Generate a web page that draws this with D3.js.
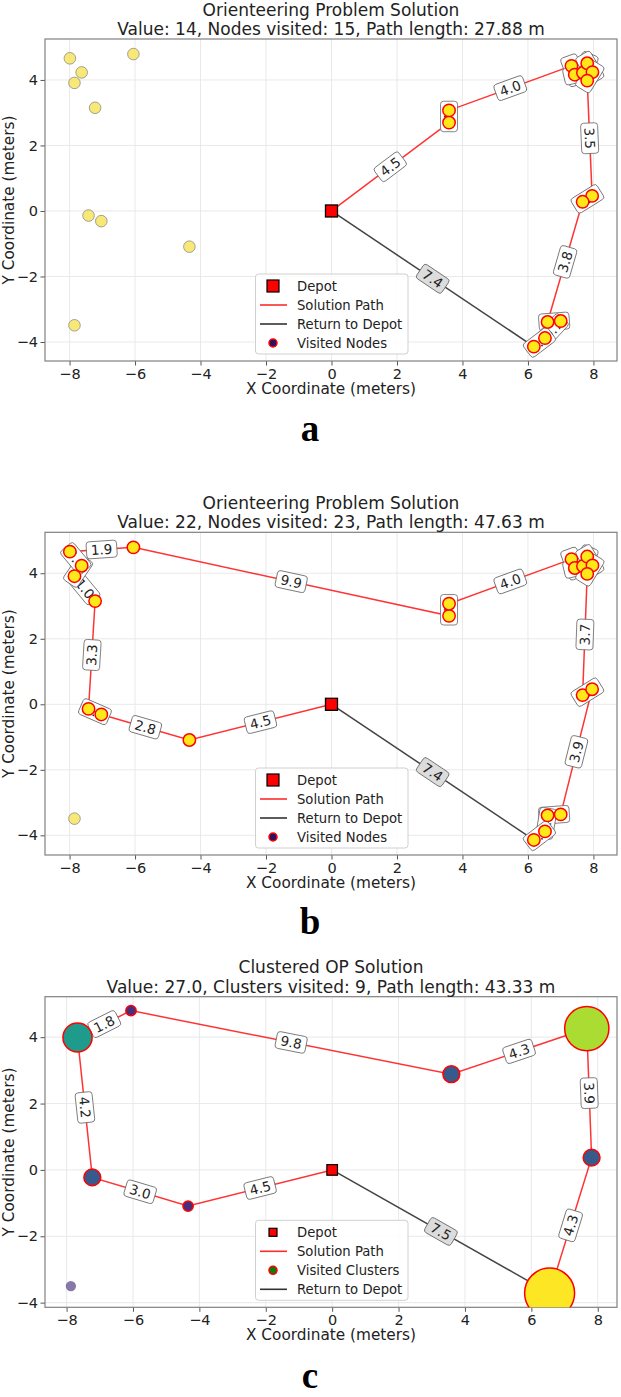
<!DOCTYPE html>
<html>
<head>
<meta charset="utf-8">
<script src="https://cdn.jsdelivr.net/npm/d3@7"></script>
<style>
  body { margin: 0; background: #fff; }
  svg { display: block; font-family: "DejaVu Sans", sans-serif; }
</style>
</head>
<body>
<div class="core_div"></div>
<script>
// node coordinates (meters), shared by panels a and b
var nodeX = [-7.99, -7.63, -7.85, -7.22, -6.05, -7.42, -7.03, -4.34, -7.85,
             3.59, 3.59, 7.33, 7.43, 7.68, 7.81, 7.97, 7.81, 7.96, 7.67, 7.00, 6.60, 6.52, 6.18];
var nodeY = [4.66, 4.23, 3.91, 3.15, 4.79, -0.14, -0.31, -1.09, -3.49,
             2.70, 3.07, 4.43, 4.16, 4.22, 4.51, 4.24, 3.98, 0.46, 0.28, -3.36, -3.39, -3.88, -4.14];

// visiting order (node index), depot at start and end
var routeA = [9, 10, 11, 12, 13, 14, 15, 16, 17, 18, 20, 19, 21, 22];
var routeB = [7, 6, 5, 3, 2, 1, 0, 4, 9, 10, 11, 12, 13, 14, 15, 16, 18, 17, 19, 20, 21, 22];

// clusters for panel c
var clusterX = [-7.67, -6.06, -7.225, -4.34, 3.59, 7.67, 7.815, 6.55, -7.87];
var clusterY = [3.99, 4.80, -0.225, -1.09, 2.885, 4.26, 0.37, -3.71, -3.50];
var clusterValue = [3.6, 0.45, 1.2, 0.45, 1.2, 8.3, 1.2, 10.6, 0.45];
var routeC = [3, 2, 0, 1, 4, 5, 6, 7];

var xTicks = [-8, -6, -4, -2, 0, 2, 4, 6, 8];
var yTicks = [-4, -2, 0, 2, 4];

var titlesA = ["Orienteering Problem Solution", "Value: 14, Nodes visited: 15, Path length: 27.88 m"];
var titlesB = ["Orienteering Problem Solution", "Value: 22, Nodes visited: 23, Path length: 47.63 m"];
var titlesC = ["Clustered OP Solution", "Value: 27.0, Clusters visited: 9, Path length: 43.33 m"];

var legendAB = ["Depot", "Solution Path", "Return to Depot", "Visited Nodes"];
var legendC = ["Depot", "Solution Path", "Visited Clusters", "Return to Depot"];

var W = 621, H = 1397;
var LEFT = 45, RIGHT = 617;

var svg = d3.select(".core_div").append("svg")
    .attr("width", W)
    .attr("height", H);

var clipCount = 0;

// draws frame, grid, axes, titles and returns the scales + plot group
function makePanel(p) {
  var x = d3.scaleLinear().domain(p.xDomain).range([LEFT, RIGHT]);
  var y = d3.scaleLinear().domain(p.yDomain).range([p.bottom, p.top]);
  var g = svg.append("g");

  var id = "clip" + (clipCount++);
  svg.append("clipPath").attr("id", id)
    .append("rect")
      .attr("x", LEFT).attr("y", p.top)
      .attr("width", RIGHT - LEFT).attr("height", p.bottom - p.top);

  // grid
  g.selectAll("line.gx").data(xTicks).enter().append("line")
      .attr("x1", function(d) { return x(d); }).attr("x2", function(d) { return x(d); })
      .attr("y1", p.top).attr("y2", p.bottom)
      .style("stroke", "#e6e6e6").style("stroke-width", 0.9);
  g.selectAll("line.gy").data(yTicks).enter().append("line")
      .attr("y1", function(d) { return y(d); }).attr("y2", function(d) { return y(d); })
      .attr("x1", LEFT).attr("x2", RIGHT)
      .style("stroke", "#e6e6e6").style("stroke-width", 0.9);

  // axes
  var xAxis = g.append("g")
      .attr("transform", "translate(0," + p.bottom + ")")
      .call(d3.axisBottom(x).tickValues(xTicks).tickSize(4.5).tickPadding(3));
  var yAxis = g.append("g")
      .attr("transform", "translate(" + LEFT + ",0)")
      .call(d3.axisLeft(y).tickValues(yTicks).tickSize(4.5).tickPadding(2.5));
  [xAxis, yAxis].forEach(function(a) {
    a.select(".domain").remove();
    a.selectAll(".tick line").style("stroke", "#555").style("stroke-width", 1);
    a.selectAll(".tick text")
      .style("font-family", "DejaVu Sans")
      .style("font-size", "14.5px")
      .style("fill", "#222");
  });

  // frame
  g.append("rect")
      .attr("x", LEFT).attr("y", p.top)
      .attr("width", RIGHT - LEFT).attr("height", p.bottom - p.top)
      .style("fill", "none").style("stroke", "#808080").style("stroke-width", 1.2);

  // titles
  g.append("text")
      .attr("x", (LEFT + RIGHT) / 2).attr("y", p.top - 23.5)
      .attr("text-anchor", "middle")
      .style("font-size", "17px").style("fill", "#222")
      .text(p.titles[0]);
  g.append("text")
      .attr("x", (LEFT + RIGHT) / 2).attr("y", p.top - 4)
      .attr("text-anchor", "middle")
      .style("font-size", "17px").style("fill", "#222")
      .text(p.titles[1]);

  // axis labels
  g.append("text")
      .attr("x", (LEFT + RIGHT) / 2).attr("y", p.bottom + 33)
      .attr("text-anchor", "middle")
      .style("font-size", "15.3px").style("fill", "#222")
      .text("X Coordinate (meters)");
  g.append("text")
      .attr("transform", "translate(14," + ((p.top + p.bottom) / 2) + ") rotate(-90)")
      .attr("text-anchor", "middle")
      .style("font-size", "15.3px").style("fill", "#222")
      .text("Y Coordinate (meters)");

  // panel letter
  svg.append("text")
      .attr("x", 310).attr("y", p.letterY)
      .attr("text-anchor", "middle")
      .style("font-family", "Liberation Serif, DejaVu Serif, serif")
      .style("font-weight", "bold")
      .style("font-size", "37px")
      .style("fill", "#000")
      .text(p.letter);

  var plot = svg.append("g").attr("clip-path", "url(#" + id + ")");
  return {x: x, y: y, plot: plot, p: p};
}

// edge length label, rotated along the edge, in a rounded box
function drawLabel(layer, P, a, b) {
  var px1 = P.x(a[0]), py1 = P.y(a[1]), px2 = P.x(b[0]), py2 = P.y(b[1]);
  var ang = Math.atan2(py2 - py1, px2 - px1) * 180 / Math.PI;
  if (ang > 90) ang -= 180;
  if (ang <= -90) ang += 180;
  var dist = Math.hypot(b[0] - a[0], b[1] - a[1]);
  var lg = layer.append("g")
      .attr("transform", "translate(" + ((px1 + px2) / 2) + "," + ((py1 + py2) / 2) + ") rotate(" + ang + ")");
  var rect = lg.append("rect");
  var t = lg.append("text")
      .attr("text-anchor", "middle")
      .attr("dy", "0.36em")
      .style("font-size", "13.5px")
      .style("fill", "#222")
      .text(dist.toFixed(1));
  var w = t.node().getComputedTextLength() + 9;
  var h = 17;
  rect.attr("x", -w / 2).attr("y", -h / 2)
      .attr("width", w).attr("height", h)
      .attr("rx", 3).attr("ry", 3)
      .style("fill", a.ret || b.ret ? "#dcdcdc" : "#fff")
      .style("stroke", "#666")
      .style("stroke-width", 0.8);
  return lg;
}

function legend(P, labels, kind) {
  var p = P.p;
  var top = p.bottom - 87;
  var lg = svg.append("g");
  lg.append("rect")
      .attr("x", 255.5).attr("y", top)
      .attr("width", 152.5).attr("height", 80)
      .attr("rx", 3)
      .style("fill", "#fff").style("fill-opacity", 0.85)
      .style("stroke", "#d0d0d0").style("stroke-width", 1);
  labels.forEach(function(lab, i) {
    var cy = top + 12 + i * 19;
    if (lab === "Depot") {
      var s = kind === "c" ? 8 : 12;
      lg.append("rect").attr("x", 273 - s / 2).attr("y", cy - s / 2)
        .attr("width", s).attr("height", s)
        .style("fill", "#ff0000").style("stroke", "#000").style("stroke-width", 1.2);
    } else if (lab === "Solution Path" || lab === "Return to Depot") {
      lg.append("line").attr("x1", 260).attr("x2", 287).attr("y1", cy).attr("y2", cy)
        .style("stroke", lab === "Solution Path" ? "#ff2a2a" : "#333")
        .style("stroke-width", 1.6);
    } else {
      lg.append("circle").attr("cx", 273).attr("cy", cy).attr("r", 4)
        .style("fill", kind === "c" ? "#0a7d0a" : "#2b115e")
        .style("stroke", "#ff0000").style("stroke-width", 1.5);
    }
    lg.append("text").attr("x", 297).attr("y", cy).attr("dy", "0.36em")
      .style("font-size", "13.2px").style("fill", "#222")
      .text(lab);
  });
}

function lineGen(P) {
  return d3.line().x(function(d) { return P.x(d[0]); }).y(function(d) { return P.y(d[1]); });
}

// ---------- panels a and b ----------
function nodePanel(cfg, route) {
  var P = makePanel(cfg);
  var visited = new Set(route);
  var depot = [0, 0];
  var pts = [depot].concat(route.map(function(i) { return [nodeX[i], nodeY[i]]; }));
  var last = pts[pts.length - 1];
  var line = lineGen(P);

  P.plot.append("path").attr("d", line([last, depot]))
      .style("fill", "none").style("stroke", "#222").style("stroke-opacity", 0.85)
      .style("stroke-width", 1.5);
  P.plot.append("path").attr("d", line(pts))
      .style("fill", "none").style("stroke", "#ff0000").style("stroke-opacity", 0.8)
      .style("stroke-width", 1.5);

  var labels = P.plot.append("g");
  for (var k = 0; k < pts.length - 1; k++) drawLabel(labels, P, pts[k], pts[k + 1]);
  var r0 = last.slice();
  r0.ret = true;
  drawLabel(labels, P, r0, depot.slice());

  var idx = d3.range(nodeX.length);
  P.plot.selectAll("circle.un").data(idx.filter(function(i) { return !visited.has(i); }))
    .enter().append("circle")
      .attr("cx", function(i) { return P.x(nodeX[i]); })
      .attr("cy", function(i) { return P.y(nodeY[i]); })
      .attr("r", 5.8)
      .style("fill", "#f7e45e").style("fill-opacity", 0.85)
      .style("stroke", "#8a8a8a").style("stroke-width", 0.8);
  P.plot.selectAll("circle.vis").data(route)
    .enter().append("circle")
      .attr("cx", function(i) { return P.x(nodeX[i]); })
      .attr("cy", function(i) { return P.y(nodeY[i]); })
      .attr("r", 6.2)
      .style("fill", "#ffe81a")
      .style("stroke", "#ff0000").style("stroke-width", 1.5);
  P.plot.append("rect")
      .attr("x", P.x(0) - 6).attr("y", P.y(0) - 6)
      .attr("width", 12).attr("height", 12)
      .style("fill", "#ff0000").style("stroke", "#000").style("stroke-width", 1.3);

  legend(P, legendAB, "ab");
}

nodePanel({top: 39, bottom: 361, xDomain: [-8.75, 8.72], yDomain: [-4.58, 5.25],
           titles: titlesA, letter: "a", letterY: 441}, routeA);
nodePanel({top: 532.3, bottom: 855, xDomain: [-8.75, 8.72], yDomain: [-4.60, 5.25],
           titles: titlesB, letter: "b", letterY: 934}, routeB);

// ---------- panel c ----------
(function() {
  var P = makePanel({top: 996.7, bottom: 1307.3, xDomain: [-8.65, 8.58], yDomain: [-4.14, 5.22],
                     titles: titlesC, letter: "c", letterY: 1388});
  var size = d3.scaleSqrt().domain([0, 10.6]).range([0, 25]);
  var color = d3.scaleSequentialSqrt(d3.interpolateViridis).domain([0.07, 10.6]);
  var depot = [0, 0];
  var pts = [depot].concat(routeC.map(function(i) { return [clusterX[i], clusterY[i]]; }));
  var last = pts[pts.length - 1];
  var line = lineGen(P);
  var visited = new Set(routeC);

  P.plot.append("path").attr("d", line([last, depot]))
      .style("fill", "none").style("stroke", "#222").style("stroke-opacity", 0.85)
      .style("stroke-width", 1.5);
  P.plot.append("path").attr("d", line(pts))
      .style("fill", "none").style("stroke", "#ff0000").style("stroke-opacity", 0.8)
      .style("stroke-width", 1.5);

  var labels = P.plot.append("g");
  for (var k = 0; k < pts.length - 1; k++) drawLabel(labels, P, pts[k], pts[k + 1]);
  var r0 = last.slice();
  r0.ret = true;
  drawLabel(labels, P, r0, depot.slice());

  var idx = d3.range(clusterX.length);
  P.plot.selectAll("circle.un").data(idx.filter(function(i) { return !visited.has(i); }))
    .enter().append("circle")
      .attr("cx", function(i) { return P.x(clusterX[i]); })
      .attr("cy", function(i) { return P.y(clusterY[i]); })
      .attr("r", function(i) { return size(clusterValue[i]); })
      .style("fill", function(i) { return color(clusterValue[i]); })
      .style("fill-opacity", 0.65);
  P.plot.selectAll("circle.vis").data(routeC)
    .enter().append("circle")
      .attr("cx", function(i) { return P.x(clusterX[i]); })
      .attr("cy", function(i) { return P.y(clusterY[i]); })
      .attr("r", function(i) { return size(clusterValue[i]); })
      .style("fill", function(i) { return color(clusterValue[i]); })
      .style("stroke", "#ff0000").style("stroke-width", 1.5);
  P.plot.append("rect")
      .attr("x", P.x(0) - 5.3).attr("y", P.y(0) - 5.3)
      .attr("width", 10.6).attr("height", 10.6)
      .style("fill", "#ff0000").style("stroke", "#000").style("stroke-width", 1.2);

  legend(P, legendC, "c");
})();
</script>
</body>
</html>
